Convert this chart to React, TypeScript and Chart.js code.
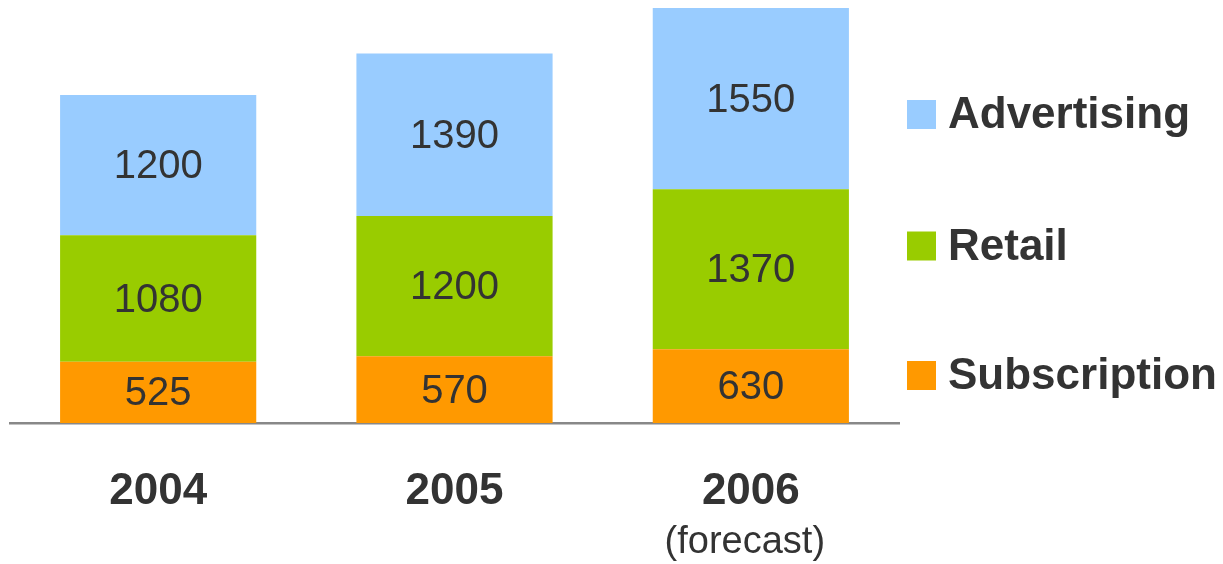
import React, { useEffect, useRef } from "react";
import { Chart, registerables } from "chart.js";

Chart.register(...registerables);

const years = ["2004", "2005", "2006"];
const yearNotes = ["", "", "(forecast)"];
const subscription = [525, 570, 630];
const retail = [1080, 1200, 1370];
const advertising = [1200, 1390, 1550];

const FONT = '"Liberation Sans", Arial, Helvetica, sans-serif';
const TEXT = "#333333";

// Centered value inside every bar segment
const valueLabels = {
  id: "valueLabels",
  afterDatasetsDraw(chart: any) {
    const ctx = chart.ctx;
    ctx.save();
    ctx.font = `40px ${FONT}`;
    ctx.fillStyle = TEXT;
    ctx.textAlign = "center";
    ctx.textBaseline = "middle";
    chart.data.datasets.forEach((ds: any, i: number) => {
      const meta = chart.getDatasetMeta(i);
      meta.data.forEach((bar: any, j: number) => {
        const { x, y, base } = bar.getProps(["x", "y", "base"], true);
        ctx.fillText(String(ds.data[j]), x, (y + base) / 2 + 2);
      });
    });
    ctx.restore();
  },
};

// Notes under year labels and the legend on the right
const extras = {
  id: "extras",
  afterDraw(chart: any) {
    const ctx = chart.ctx;
    const xScale = chart.scales.x;
    ctx.save();
    ctx.fillStyle = TEXT;
    ctx.font = `38px ${FONT}`;
    ctx.textAlign = "center";
    ctx.textBaseline = "middle";
    yearNotes.forEach((note, i) => {
      if (note) ctx.fillText(note, xScale.getPixelForValue(i) - 6, 543);
    });

    // legend: top item is the top segment of the stack
    const items = [...chart.data.datasets].reverse();
    const centers = [114.5, 246, 375.5];
    const box = 29;
    const boxX = 907;
    ctx.font = `bold 44px ${FONT}`;
    ctx.textAlign = "left";
    ctx.textBaseline = "alphabetic";
    items.forEach((ds: any, i: number) => {
      const cy = centers[i];
      ctx.fillStyle = ds.backgroundColor;
      ctx.fillRect(boxX, cy - box / 2, box, box);
      ctx.fillStyle = TEXT;
      ctx.fillText(ds.label, 948, cy + box / 2 - 1);
    });
    ctx.restore();
  },
};

export default function App() {
  const ref = useRef<HTMLCanvasElement | null>(null);

  useEffect(() => {
    if (!ref.current) return;
    const chart = new Chart(ref.current, {
      type: "bar",
      data: {
        labels: years,
        datasets: [
          { label: "Subscription", data: subscription, backgroundColor: "#FF9900" },
          { label: "Retail", data: retail, backgroundColor: "#99CC00" },
          { label: "Advertising", data: advertising, backgroundColor: "#99CCFF" },
        ],
      },
      options: {
        animation: false,
        responsive: false,
        maintainAspectRatio: false,
        layout: { padding: { top: 8, left: 10, right: 324, bottom: 0 } },
        datasets: {
          bar: { categoryPercentage: 1, barPercentage: 0.662, borderWidth: 0 },
        },
        plugins: {
          legend: { display: false },
          tooltip: { enabled: false },
        },
        scales: {
          x: {
            stacked: true,
            grid: { display: false, drawTicks: false },
            border: { display: true, color: "#888888", width: 2.5 },
            ticks: {
              color: TEXT,
              font: { family: FONT, size: 44, weight: "bold" },
              padding: 42,
            },
            afterFit(scale: any) {
              scale.height = 141;
            },
          },
          y: {
            stacked: true,
            display: false,
            min: 0,
            max: 3550,
          },
        },
      },
      plugins: [valueLabels, extras],
    });
    return () => chart.destroy();
  }, []);

  return (
    <div style={{ position: "fixed", left: 0, top: 0, width: 1223, height: 564, background: "#fff" }}>
      <canvas ref={ref} width={1223} height={564} style={{ display: "block" }} />
    </div>
  );
}
